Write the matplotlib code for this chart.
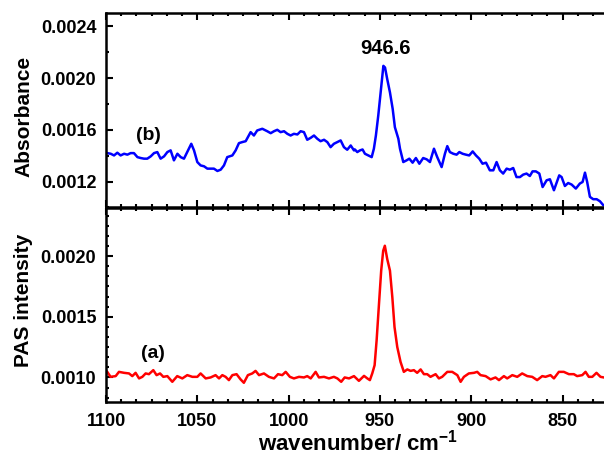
import matplotlib
matplotlib.use('Agg')
import matplotlib.pyplot as plt
from matplotlib.ticker import MultipleLocator, AutoMinorLocator

plt.rcParams['font.family'] = ['Liberation Sans', 'DejaVu Sans']
plt.rcParams['font.weight'] = 'bold'
plt.rcParams['mathtext.default'] = 'regular'

# (b) absorbance spectrum
wn_abs = [1099.3, 1097.4, 1095.6, 1093.8, 1092.0, 1090.1, 1088.3, 1086.5, 1084.7, 1082.8,
          1081.0, 1079.2, 1077.4, 1075.5, 1073.7, 1071.9, 1070.1, 1068.2, 1066.4, 1064.6,
          1062.8, 1060.9, 1059.1, 1057.3, 1055.5, 1053.3, 1051.8, 1050.0, 1048.2, 1046.3,
          1044.5, 1042.7, 1040.9, 1039.0, 1037.2, 1035.4, 1033.6, 1030.8, 1029.0, 1027.2,
          1025.4, 1023.5, 1020.8, 1019.0, 1017.2, 1014.4, 1011.7, 1009.8, 1008.0, 1006.2,
          1004.4, 1002.5, 1000.7, 998.9, 997.1, 995.2, 993.4, 991.6, 989.8, 987.9,
          986.1, 984.3, 982.5, 980.6, 978.8, 977.0, 975.2, 973.3, 971.5, 969.7,
          967.9, 966.0, 964.2, 963.7, 962.4, 960.9, 959.5, 958.2, 956.4, 954.5,
          953.3, 952.2, 950.9, 949.6, 948.1, 947.2, 946.0, 944.5, 943.0, 941.8,
          939.9, 939.0, 937.2, 935.4, 933.9, 932.1, 930.3, 928.4, 926.3, 924.4,
          922.6, 920.4, 918.6, 916.2, 914.4, 913.1, 911.7, 909.8, 908.0, 906.5,
          904.7, 902.9, 901.1, 899.2, 897.4, 895.6, 893.8, 891.9, 889.8, 887.9,
          886.1, 884.3, 882.5, 880.6, 878.8, 877.0, 875.2, 873.3, 871.5, 869.7,
          867.9, 866.4, 864.6, 862.7, 860.9, 858.7, 856.9, 854.7, 851.8, 850.5,
          848.7, 846.9, 845.0, 842.7, 840.5, 839.0, 837.7, 836.5, 835.0, 833.2,
          831.3, 829.5, 827.7]
absorbance = [0.001420, 0.001415, 0.001402, 0.001423, 0.001402, 0.001415, 0.001408, 0.001420, 0.001420, 0.001389,
              0.001382, 0.001377, 0.001377, 0.001395, 0.001420, 0.001428, 0.001377, 0.001395, 0.001428, 0.001441,
              0.001364, 0.001415, 0.001389, 0.001377, 0.001428, 0.001492, 0.001441, 0.001351, 0.001325, 0.001318,
              0.001300, 0.001300, 0.001300, 0.001282, 0.001292, 0.001325, 0.001389, 0.001402, 0.001441, 0.001497,
              0.001505, 0.001512, 0.001582, 0.001556, 0.001595, 0.001608, 0.001589, 0.001574, 0.001589, 0.001600,
              0.001582, 0.001589, 0.001569, 0.001556, 0.001569, 0.001564, 0.001589, 0.001582, 0.001523, 0.001538,
              0.001556, 0.001531, 0.001512, 0.001523, 0.001505, 0.001466, 0.001492, 0.001505, 0.001518, 0.001466,
              0.001446, 0.001479, 0.001441, 0.001448, 0.001428, 0.001441, 0.001448, 0.001415, 0.001402, 0.001389,
              0.001454, 0.001556, 0.001710, 0.001889, 0.002094, 0.002081, 0.001992, 0.001889, 0.001761, 0.001620,
              0.001531, 0.001454, 0.001351, 0.001364, 0.001377, 0.001346, 0.001382, 0.001338, 0.001382, 0.001372,
              0.001351, 0.001454, 0.001389, 0.001312, 0.001415, 0.001474, 0.001428, 0.001415, 0.001408, 0.001428,
              0.001415, 0.001408, 0.001402, 0.001433, 0.001402, 0.001377, 0.001338, 0.001346, 0.001287, 0.001287,
              0.001351, 0.001287, 0.001262, 0.001300, 0.001292, 0.001305, 0.001235, 0.001235, 0.001254, 0.001262,
              0.001243, 0.001279, 0.001279, 0.001262, 0.001158, 0.001210, 0.001218, 0.001133, 0.001248, 0.001235,
              0.001166, 0.001189, 0.001177, 0.001146, 0.001185, 0.001197, 0.001269, 0.001197, 0.001082, 0.001064,
              0.001064, 0.001048, 0.001018]

# (a) PAS spectrum
wn_pas = [1099.3, 1097.5, 1094.7, 1092.9, 1090.1, 1087.4, 1085.6, 1083.8, 1081.9, 1080.1,
          1078.3, 1076.5, 1074.1, 1072.3, 1070.4, 1068.6, 1066.4, 1063.7, 1061.0, 1058.2,
          1055.5, 1052.7, 1050.0, 1048.2, 1045.4, 1042.7, 1040.0, 1038.1, 1036.3, 1034.5,
          1032.7, 1030.8, 1028.5, 1026.3, 1024.5, 1022.3, 1019.9, 1018.1, 1016.2, 1013.5,
          1010.8, 1008.0, 1005.8, 1003.5, 1001.6, 999.3, 997.1, 994.3, 991.6, 989.8,
          987.9, 985.2, 983.4, 980.6, 977.9, 975.2, 973.3, 971.2, 969.3, 966.9,
          964.2, 961.5, 958.7, 956.9, 955.5, 954.2, 952.9, 951.8, 950.5, 949.3,
          948.2, 947.3, 946.0, 944.5, 943.2, 942.0, 940.5, 938.7, 936.9, 935.0,
          933.2, 931.4, 929.6, 927.7, 925.9, 924.1, 922.3, 919.5, 917.7, 915.9,
          913.1, 910.4, 907.6, 905.8, 904.0, 901.3, 898.5, 896.7, 894.9, 892.1,
          889.4, 886.7, 884.8, 882.1, 880.3, 877.5, 874.8, 872.1, 869.3, 866.6,
          863.9, 861.1, 859.3, 856.6, 854.7, 852.0, 849.3, 846.5, 843.8, 842.0,
          839.2, 837.4, 835.6, 833.7, 831.4, 829.2, 827.4]
pas = [0.001046, 0.001005, 0.001011, 0.001046, 0.001038, 0.001033, 0.001011, 0.001038, 0.000992, 0.001005,
       0.001033, 0.001027, 0.001060, 0.001019, 0.001033, 0.001005, 0.001011, 0.000964, 0.001011, 0.000992,
       0.001019, 0.001005, 0.001005, 0.001033, 0.000992, 0.001000, 0.001019, 0.000992, 0.001019, 0.001005,
       0.000978, 0.001019, 0.001027, 0.000984, 0.000956, 0.001019, 0.001033, 0.001054, 0.001019, 0.001033,
       0.001005, 0.000992, 0.001027, 0.001019, 0.001046, 0.001005, 0.000992, 0.001005, 0.001000, 0.001011,
       0.000992, 0.001046, 0.001000, 0.001005, 0.000992, 0.001005, 0.000992, 0.000964, 0.001000, 0.000992,
       0.001011, 0.000972, 0.001013, 0.000992, 0.000978, 0.001033, 0.001101, 0.001306, 0.001607, 0.001880,
       0.002044, 0.002085, 0.001976, 0.001880, 0.001661, 0.001415, 0.001251, 0.001128, 0.001046, 0.001066,
       0.001054, 0.001060, 0.001038, 0.001066, 0.001027, 0.001027, 0.001005, 0.001027, 0.000992, 0.001005,
       0.001046, 0.001046, 0.001019, 0.000964, 0.001005, 0.001033, 0.001038, 0.001046, 0.001019, 0.001011,
       0.000984, 0.001000, 0.000978, 0.001011, 0.000992, 0.001019, 0.001005, 0.001033, 0.001011, 0.001005,
       0.000978, 0.001011, 0.001005, 0.001019, 0.000992, 0.001046, 0.001046, 0.001027, 0.001027, 0.001011,
       0.001019, 0.001046, 0.001005, 0.001005, 0.001038, 0.001005, 0.001000]

peak_label = '946.6'

fig = plt.figure(figsize=(6.04, 4.55), dpi=100)
ax_top = fig.add_axes([0.1755, 0.544, 0.8314, 0.4268])
ax_bot = fig.add_axes([0.1755, 0.1171, 0.8314, 0.4268])

ax_top.plot(wn_abs, absorbance, color='#0000ff', lw=1.8)
ax_bot.plot(wn_pas, pas, color='#ff0000', lw=1.8)

ax_top.set_ylim(0.001, 0.0025)
ax_top.yaxis.set_major_locator(MultipleLocator(0.0004))
ax_top.yaxis.set_minor_locator(AutoMinorLocator(2))
ax_bot.set_ylim(0.0008, 0.0024)
ax_bot.yaxis.set_major_locator(MultipleLocator(0.0005))
ax_bot.yaxis.set_minor_locator(AutoMinorLocator(6))

for ax in (ax_top, ax_bot):
    ax.set_xlim(1100, 825)
    ax.xaxis.set_major_locator(MultipleLocator(50))
    ax.xaxis.set_minor_locator(AutoMinorLocator(6))
    ax.tick_params(which='both', direction='in', top=True, right=False, width=1.5,
                   labelsize=13)
    ax.tick_params(which='major', length=5)
    ax.tick_params(which='minor', length=2.5)
    ax.tick_params(axis='y', pad=7)
    for s in ax.spines.values():
        s.set_linewidth(1.8)
    ax.yaxis.set_major_formatter(plt.FuncFormatter(lambda v, p: f'{v:.4f}'))

ax_top.tick_params(labelbottom=False)
ax_bot.xaxis.set_major_formatter(plt.FuncFormatter(lambda v, p: f'{v:.0f}'))
ax_bot.tick_params(axis='x', pad=8)

ax_top.set_ylabel('Absorbance', fontsize=15, fontweight='bold')
ax_bot.set_ylabel('PAS intensity', fontsize=15, fontweight='bold')
ax_top.yaxis.set_label_coords(-0.145, 0.47)
ax_bot.yaxis.set_label_coords(-0.145, 0.52)
ax_bot.set_xlabel('wavenumber/ cm$^{-1}$', fontsize=16, fontweight='bold')
ax_bot.xaxis.set_label_coords(0.502, -0.145)

ax_top.text(946.8, 0.002225, peak_label, fontsize=14.5, fontweight='bold', ha='center', va='center')
ax_top.text(1076.5, 0.001556, '(b)', fontsize=14, fontweight='bold', ha='center', va='center')
ax_bot.text(1074.1, 0.001197, '(a)', fontsize=14, fontweight='bold', ha='center', va='center')

fig.savefig('out.png', dpi=100)
